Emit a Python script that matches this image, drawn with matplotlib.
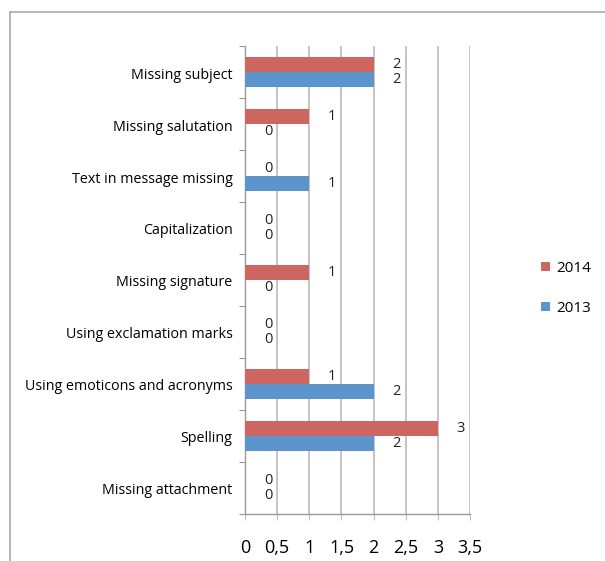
import matplotlib.pyplot as plt
from matplotlib.lines import Line2D
import numpy as np

plt.rcParams['font.family'] = ['Open Sans', 'DejaVu Sans']

categories = ["Missing subject", "Missing salutation", "Text in message missing",
              "Capitalization", "Missing signature", "Using exclamation marks",
              "Using emoticons and acronyms", "Spelling", "Missing attachment"]
y2014 = [2, 1, 0, 0, 1, 0, 1, 3, 0]
y2013 = [2, 0, 1, 0, 0, 0, 2, 2, 0]
xticks = [0, 0.5, 1, 1.5, 2, 2.5, 3, 3.5]

red = "#CD6560"
blue = "#5B95CC"
gray = "#BFBFBF"

fig = plt.figure(figsize=(6.05, 5.61), dpi=100)
ax = fig.add_axes([0.405, 0.084, 0.372, 0.834])

pos = np.arange(len(categories))[::-1]
h = 0.29
b1 = ax.barh(pos + h / 2, y2014, height=h, color=red, label="2014", zorder=3)
b2 = ax.barh(pos - h / 2, y2013, height=h, color=blue, label="2013", zorder=3)

# value labels to the right of each bar end
for bars, vals in ((b1, y2014), (b2, y2013)):
    for bar, v in zip(bars, vals):
        ax.annotate(str(v), (v, bar.get_y() + bar.get_height() / 2),
                    xytext=(23, 0), textcoords="offset pixels",
                    ha="center", va="center", fontsize=10.5, color="#222222")

ax.set_xlim(0, 3.5)
ax.set_ylim(-0.5, len(categories) - 0.5)
ax.set_xticks(xticks)
ax.set_xticklabels([("%g" % t).replace(".", ",") for t in xticks], fontsize=13)
ax.grid(axis="x", color=gray, linewidth=1.3, zorder=0)

ax.set_yticks(np.arange(len(categories) + 1) - 0.5)
ax.set_yticklabels([])
ax.set_yticks(pos - 0.02, minor=True)
ax.set_yticklabels(categories, minor=True, fontsize=10.3)
ax.tick_params(axis="y", which="minor", length=0, pad=9)
ax.tick_params(axis="y", which="major", length=4, color="#999999")
ax.tick_params(axis="x", length=4, color=gray, pad=14)

for s in ("top", "right"):
    ax.spines[s].set_visible(False)
for s in ("left", "bottom"):
    ax.spines[s].set_color("#999999")
    ax.spines[s].set_linewidth(1.0)

fig.legend(handles=[b1, b2], loc="center left", bbox_to_anchor=(0.872, 0.486),
           frameon=False, handlelength=0.55, handleheight=0.55, handletextpad=0.4,
           labelspacing=1.65, fontsize=11)

# outer border
fig.add_artist(Line2D([0.016, 1.0], [0.979, 0.979], color="#AAAAAA", lw=1.2))
fig.add_artist(Line2D([0.016, 0.016], [0.0, 0.979], color="#AAAAAA", lw=1.2))

fig.savefig("out.png", dpi=100)
